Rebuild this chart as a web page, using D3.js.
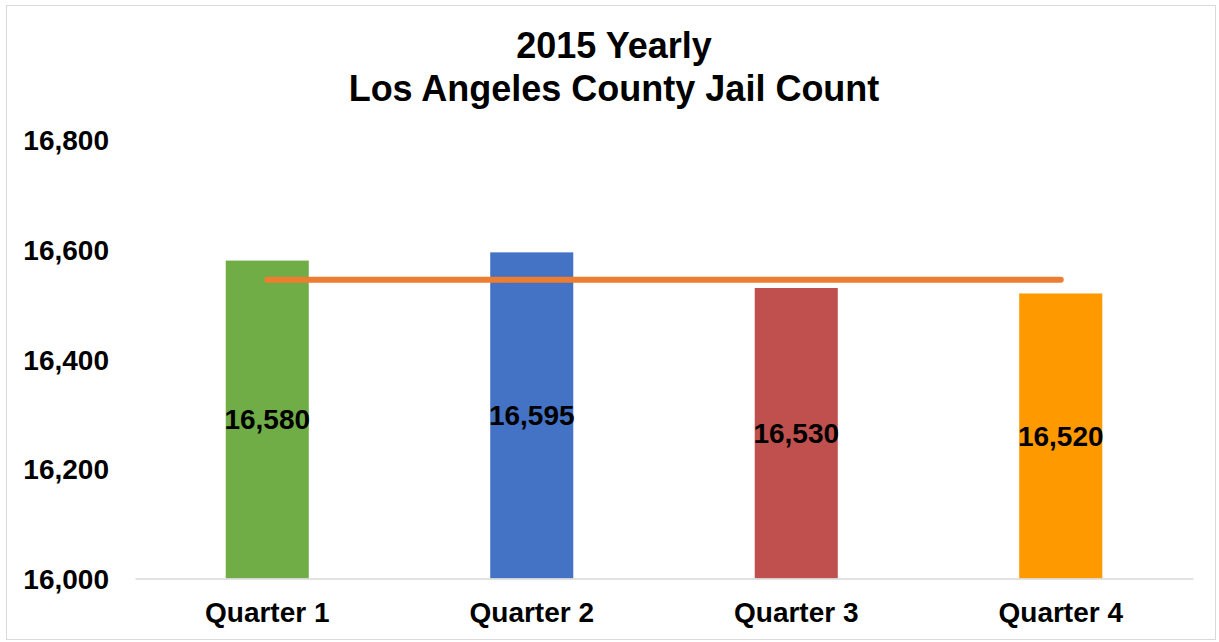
<!DOCTYPE html>
<html><head><meta charset="utf-8">
<script src="https://cdn.jsdelivr.net/npm/d3@7"></script>
<style>body{margin:0;background:#fff}svg{display:block}text{font-family:"Liberation Sans",Arial,sans-serif;font-weight:bold;fill:#000}</style>
</head><body><svg id="c" width="1219" height="642"></svg>
<script>
const categories = ["Quarter 1","Quarter 2","Quarter 3","Quarter 4"];
const values = [16580, 16595, 16530, 16520];
const barColors = ["#70AD47","#4472C4","#C0504D","#FF9900"];
const lineValues = [16545, 16545, 16545, 16545];
const yTicks = [16000, 16200, 16400, 16600, 16800];
const titleLines = ["2015 Yearly","Los Angeles County Jail Count"];

const svg = d3.select("#c");
svg.append("rect").attr("x",6.5).attr("y",5.5).attr("width",1209).attr("height",634)
  .attr("fill","#fff").attr("stroke","#D9D9D9").attr("stroke-width",1);

const x = d3.scaleBand().domain(categories).range([135,1193]).paddingInner(0.686).paddingOuter(0.343);
const y = d3.scaleLinear().domain([16000,16800]).range([578.5,140]);

svg.selectAll("text.title").data(titleLines).join("text").attr("class","title")
  .attr("x",614).attr("y",(d,i)=>58+i*43).attr("text-anchor","middle")
  .style("font-size","36px").text(d=>d);

const fmt = d3.format(",");
const yAxis = d3.axisLeft(y).tickValues(yTicks).tickFormat(fmt).tickSize(0).tickPadding(0);
const gy = svg.append("g").attr("transform","translate(109,0)").call(yAxis);
gy.select(".domain").remove();
gy.selectAll("text").style("font-size","28px").attr("font-family",null).attr("dy","0.35em");

svg.selectAll("rect.bar").data(values).join("rect").attr("class","bar")
  .attr("x",(d,i)=>x(categories[i])).attr("width",x.bandwidth())
  .attr("y",d=>y(d)).attr("height",d=>y(16000)-y(d))
  .attr("fill",(d,i)=>barColors[i]);

const xAxis = d3.axisBottom(x).tickSize(0).tickPadding(0);
const gx = svg.append("g").attr("transform","translate(0,578.5)").call(xAxis);
gx.select(".domain").attr("stroke","#D9D9D9").attr("stroke-width",1.5);
gx.selectAll("text").style("font-size","28px").attr("font-family",null).attr("dy",null).attr("y",43);

const line = d3.line().x((d,i)=>x(categories[i])+x.bandwidth()/2).y(d=>y(d));
svg.append("path").datum(lineValues).attr("d",line).attr("fill","none")
  .attr("stroke","#ED7D31").attr("stroke-width",6).attr("stroke-linecap","round");

svg.selectAll("text.lbl").data(values).join("text").attr("class","lbl")
  .attr("x",(d,i)=>x(categories[i])+x.bandwidth()/2)
  .attr("y",d=>(y(d)+y(16000))/2).attr("dy","0.35em").attr("text-anchor","middle")
  .style("font-size","28px").text(d=>fmt(d));
</script></body></html>
